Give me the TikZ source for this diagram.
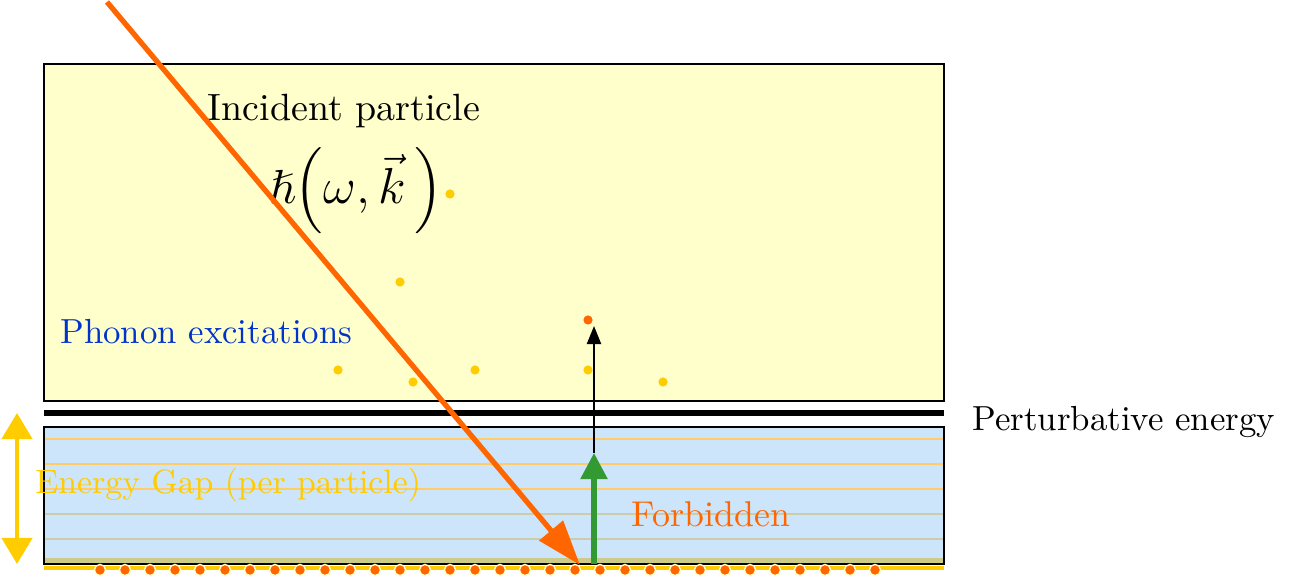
\documentclass[tikz,border=0pt]{standalone}
\usepackage{amsmath,amssymb}
\usetikzlibrary{arrows.meta}
\definecolor{PaleYellow}{HTML}{FFFFCC}
\definecolor{PaleBlue}{HTML}{CCE5FA}
\definecolor{Gold}{HTML}{FFCC00}
\definecolor{Orange}{HTML}{FF6600}
\definecolor{Level}{HTML}{FFCC66}
\definecolor{LevelGrey}{HTML}{CCCCAA}
\definecolor{Olive}{HTML}{CCCC88}
\definecolor{Green}{HTML}{339933}
\definecolor{Phonon}{HTML}{0033CC}

\begin{document}
\begin{tikzpicture}[x=0.01cm,y=-0.01cm,
  font=\fontsize{9.9}{12}\selectfont,
  level/.style={Level,line width=0.6pt},
  levelgrey/.style={LevelGrey,line width=0.6pt},
  phonon/.style={Gold,fill=Gold},
  pair/.style={fill=Orange,draw=PaleYellow,line width=0.4pt},
  incident/.style={-{Triangle[length=4.5mm,width=3mm]},Orange,line width=1.5pt},
  lift/.style={-{Triangle[length=2.6mm,width=2.6mm]},Green,line width=1.5pt},
  kick/.style={-{Triangle[length=1.8mm,width=1.4mm]},black,line width=0.6pt},
  gap/.style={{Triangle[length=2.6mm,width=3mm]}-{Triangle[length=2.6mm,width=3mm]},Gold,line width=1.2pt}
]
\useasboundingbox (0,0) rectangle (1289,583);

% Continuum of excitations above the gap.
\draw[fill=PaleYellow,line width=0.6pt] (44,64) rectangle (944,401);
\node[inner sep=0pt,font=\fontsize{10.8}{13}\selectfont] (incidentlabel)
  at (344,111) {Incident particle};
\node[inner sep=0pt] (momentum) at (356,191)
  {\fontsize{13.6}{16}\selectfont$\hslash\!\left(\omega,\vec{k}\,\right)$};
\node[Phonon,anchor=west] (phononlabel) at (48,332) {Phonon excitations};
\foreach \x/\y in {450/194,400/282,338/370,413/382,475/370,588/370,663/382}
  \fill[phonon] (\x,\y) circle (4.6);

% Threshold line.
\draw[line width=1.6pt] (44,413) -- (944,413);
\node[anchor=west] (pertlabel) at (960,422) {Perturbative energy};

% Gapped region.
\draw[fill=PaleBlue,line width=0.6pt] (44,427) rectangle (944,564);
\fill[Olive] (45,558) rectangle (943,563.5);
\foreach \y in {439,464,489}
  \draw[level] (45,\y) -- (943,\y);
\foreach \y in {514,539}
  \draw[levelgrey] (45,\y) -- (943,\y);
\draw[line width=0.6pt] (44,427) rectangle (944,564);
\draw[Gold,line width=1.3pt] (44,568) -- (944,568);
\foreach \i in {0,...,31}
  \draw[pair] (100+25*\i,570) circle (5.6);

\node[Gold,anchor=west,font=\fontsize{9.6}{12}\selectfont] (gaplabel)
  at (23,485) {Energy Gap (per particle)};
\node[Orange,font=\fontsize{10.2}{12}\selectfont] (forbidden)
  at (711,514) {Forbidden};

% Arrows.
\coordinate (gaptop) at (17,413);
\coordinate (gapbottom) at (17,564);
\draw[gap] (gaptop) -- (gapbottom);
\coordinate (source) at (107,2);
\coordinate (hit) at (580,565);
\draw[incident] (source) -- (hit);
\coordinate (ground) at (594,564);
\coordinate (gapedge) at (594,453);
\coordinate (excited) at (594,326);
\draw[kick] (gapedge) -- (excited);
\draw[lift] (ground) -- (gapedge);
\fill[Orange] (588,320) circle (4.6) coordinate (breakup);
\end{tikzpicture}
\end{document}
